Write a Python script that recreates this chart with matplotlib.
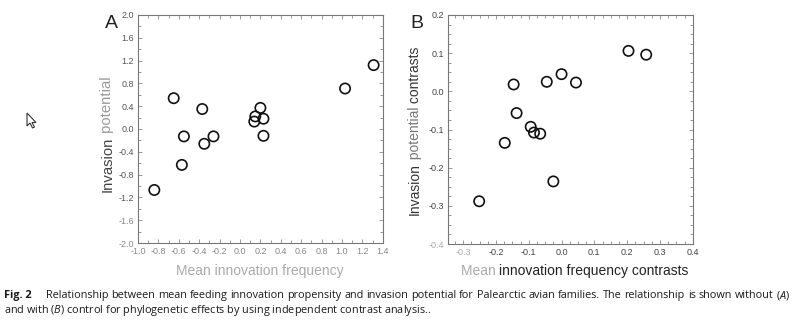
import matplotlib
matplotlib.use("Agg")
import matplotlib.pyplot as plt
from matplotlib.ticker import MultipleLocator
from matplotlib.patches import Polygon

# Panel A: family means
innov_a = [-0.84, -0.65, -0.57, -0.55, -0.37, -0.35, -0.26, 0.14, 0.15, 0.20, 0.23, 0.23, 1.03, 1.31]
invas_a = [-1.07, 0.54, -0.63, -0.13, 0.35, -0.26, -0.13, 0.13, 0.22, 0.37, 0.18, -0.12, 0.71, 1.12]

# Panel B: independent contrasts
innov_b = [-0.251, -0.173, -0.146, -0.137, -0.094, -0.084, -0.065, -0.045, -0.025, 0.0, 0.044, 0.204, 0.258]
invas_b = [-0.288, -0.135, 0.018, -0.057, -0.093, -0.108, -0.111, 0.025, -0.236, 0.045, 0.023, 0.106, 0.096]

xticks_a = [-1.0, -0.8, -0.6, -0.4, -0.2, 0.0, 0.2, 0.4, 0.6, 0.8, 1.0, 1.2, 1.4]
yticks_a = [-2.0, -1.6, -1.2, -0.8, -0.4, 0.0, 0.4, 0.8, 1.2, 1.6, 2.0]
xticks_b = [-0.3, -0.2, -0.1, 0.0, 0.1, 0.2, 0.3, 0.4]
yticks_b = [-0.4, -0.3, -0.2, -0.1, 0.0, 0.1, 0.2]

caption_1 = ('Relationship between mean feeding innovation propensity and invasion potential '
             'for Palearctic avian families. The relationship is shown without ($\\mathit{A}$)')
caption_2 = ('and with ($\\mathit{B}$) control for phylogenetic effects by using independent '
             'contrast analysis..')

plt.rcParams['font.family'] = ['Liberation Sans', 'DejaVu Sans']

fig = plt.figure(figsize=(8, 3.26), dpi=100)
fig.patch.set_facecolor('white')


def style_axes(ax, xminor, yminor, tick_color):
    for s in ax.spines.values():
        s.set_color('#777777')
        s.set_linewidth(0.8)
    ax.xaxis.set_minor_locator(MultipleLocator(xminor))
    ax.yaxis.set_minor_locator(MultipleLocator(yminor))
    ax.tick_params(which='both', direction='in', top=True, right=True,
                   color='#888888', width=0.6, labelsize=6.5, labelcolor=tick_color, pad=3)
    ax.tick_params(which='major', length=3)
    ax.tick_params(which='minor', length=2)


def fmt(v):
    return '%.1f' % v


# ---- panel A ----
ax1 = fig.add_axes([0.1725, 0.2546, 0.306, 0.6995])
ax1.scatter(innov_a, invas_a, s=55, facecolors='none', edgecolors='#111111', linewidths=1.2, zorder=3)
ax1.set_xlim(-1.0, 1.4)
ax1.set_ylim(-2.0, 2.0)
ax1.set_xticks(xticks_a)
ax1.set_xticklabels([fmt(v) for v in xticks_a])
ax1.set_yticks(yticks_a)
ax1.set_yticklabels([fmt(v) for v in yticks_a])
style_axes(ax1, 0.1, 0.2, '#888888')
for lbl in ax1.get_yticklabels():
    if float(lbl.get_text()) > -1.4:
        lbl.set_color('#555555')

fig.text(0.131, 0.929, 'A', fontsize=14, color='#222222', va='center')
fig.text(0.325, 0.17, 'Mean innovation frequency', fontsize=10, color='#aaaaaa', ha='center', va='center')
ya1 = fig.text(0.134, 0.411, 'Invasion', fontsize=10.7, color='#444444', rotation=90,
               ha='center', va='bottom')
ax1.annotate(' potential', xy=(0.5, 1), xycoords=ya1, fontsize=10.7, color='#999999',
             rotation=90, ha='center', va='bottom', annotation_clip=False)

# ---- panel B ----
ax2 = fig.add_axes([0.56, 0.2515, 0.306, 0.7025])
ax2.scatter(innov_b, invas_b, s=55, facecolors='none', edgecolors='#111111', linewidths=1.2, zorder=3)
ax2.set_xlim(-0.346, 0.4)
ax2.set_ylim(-0.4, 0.2)
ax2.set_xticks(xticks_b)
ax2.set_xticklabels([fmt(v) for v in xticks_b])
ax2.set_yticks(yticks_b)
ax2.set_yticklabels([fmt(v) for v in yticks_b])
style_axes(ax2, 0.025, 0.025, '#444444')
ax2.get_xticklabels()[0].set_color('#aaaaaa')
ax2.get_yticklabels()[0].set_color('#aaaaaa')

fig.text(0.513, 0.929, 'B', fontsize=14, color='#222222', va='center')
xb = fig.text(0.576, 0.17, 'Mean ', fontsize=10, color='#aaaaaa', ha='left', va='center')
ax2.annotate('innovation frequency contrasts', xy=(1, 0.5), xycoords=xb, fontsize=10,
             color='#222222', ha='left', va='center', annotation_clip=False)
yb = fig.text(0.519, 0.34, 'Invasion', fontsize=10, color='#333333', rotation=90,
              ha='center', va='bottom')
yb2 = ax2.annotate(' potential', xy=(0.5, 1), xycoords=yb, fontsize=10, color='#777777',
                   rotation=90, ha='center', va='bottom', annotation_clip=False)
ax2.annotate(' contrasts', xy=(0.5, 1), xycoords=yb2, fontsize=10, color='#333333',
             rotation=90, ha='center', va='bottom', annotation_clip=False)

# ---- mouse pointer left of panel A ----
px, py = 27, 113
pointer = [(0, 0), (0, 13), (3, 10), (5.5, 15), (7.5, 14), (5, 9.5), (9, 9.5)]
verts = [((px + dx) / 800, 1 - (py + dy) / 326) for dx, dy in pointer]
fig.add_artist(Polygon(verts, closed=True, facecolor='white', edgecolor='#333333',
                       linewidth=0.8, transform=fig.transFigure))

# ---- caption ----
cap_font = ['Open Sans', 'DejaVu Sans']
cap_size = 7.8
plt.rcParams['mathtext.fontset'] = 'custom'
plt.rcParams['mathtext.it'] = 'Open Sans:italic'
fig.text(0.005, 0.095, 'Fig. 2', fontsize=cap_size, fontweight='bold', family=cap_font,
         color='#1a1a1a', va='center')

# first line is justified: lay the words out one by one and spread the gaps
renderer = fig.canvas.get_renderer()
words = [fig.text(0, 0.095, w, fontsize=cap_size, family=cap_font, color='#1a1a1a', va='center')
         for w in caption_1.split(' ')]
widths = [t.get_window_extent(renderer).width / renderer.width for t in words]
left, right = 0.057, 0.988
gap = (right - left - sum(widths)) / (len(words) - 1)
x = left
for t, w in zip(words, widths):
    t.set_x(x)
    x += w + gap

fig.text(0.005, 0.048, caption_2, fontsize=cap_size, family=cap_font, color='#1a1a1a', va='center')

fig.savefig('out.png', dpi=100, facecolor='white')
